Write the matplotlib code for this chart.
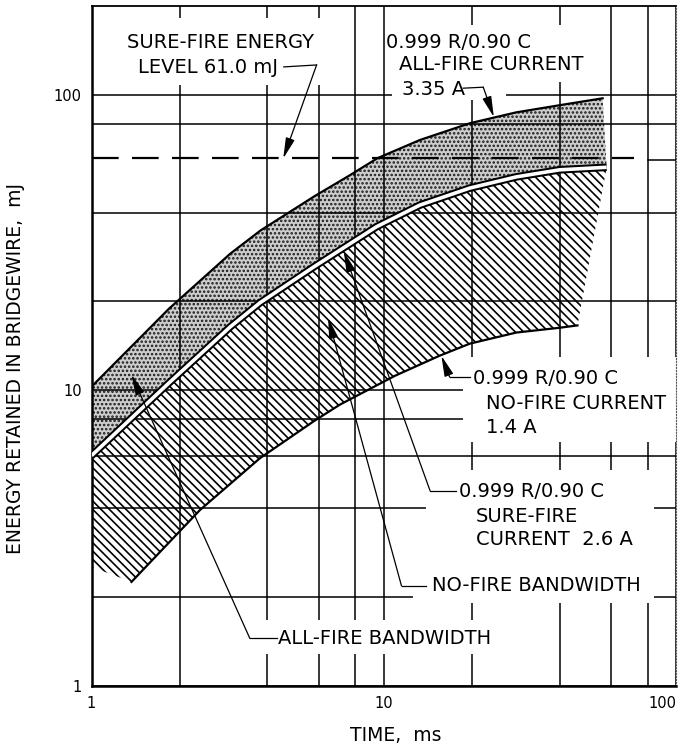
import matplotlib.pyplot as plt
from matplotlib.ticker import NullFormatter

plt.rcParams['font.family'] = ['DejaVu Sans']
plt.rcParams['hatch.linewidth'] = 1.2

# curves: time (ms) vs energy retained (mJ)
allfire_t = [1.0, 1.84, 2.98, 3.79, 5.81, 7.61, 9.52, 13.3, 19.7, 28.4, 40.5, 56.1]
allfire_e = [10.3, 18.9, 29.0, 34.8, 45.5, 53.3, 61.1, 70.4, 80.2, 87.3, 92.5, 97.4]

surefire_t = [1.0, 1.84, 2.98, 3.77, 5.73, 9.44, 13.3, 19.7, 28.4, 40.0, 57.9]
surefire_e = [6.02, 10.6, 16.4, 19.8, 26.1, 35.8, 42.4, 48.4, 52.8, 55.8, 56.9]

nofire_t = [1.37, 2.35, 3.77, 5.73, 7.07, 10.9, 15.5, 19.7, 28.4, 40.0, 46.0]
nofire_e = [2.25, 3.94, 5.9, 7.84, 8.95, 11.2, 13.1, 14.4, 15.7, 16.3, 16.6]

# hatched band is cut off at the 1 ms edge
band_cut_t = 1.0
band_cut_e = 2.53

surefire_level = 61.0

xticks = [1, 10, 100]
yticks = [1, 10, 100]
xgrid = [2, 4, 6, 8, 20, 40, 60, 80]
ygrid = [2, 4, 6, 8, 20, 40, 80]

fig = plt.figure(figsize=(6.79, 7.45), dpi=100)
ax = fig.add_axes([0.1348, 0.0792, 0.8608, 0.9128])
ax.set_xscale('log')
ax.set_yscale('log')
ax.set_xlim(1, 100)
ax.set_ylim(1, 200)

ax.set_xticks(xticks)
ax.set_xticklabels([str(v) for v in xticks])
ax.get_xticklabels()[-1].set_horizontalalignment('right')
ax.set_yticks(yticks)
ax.set_yticklabels([str(v) for v in yticks])
ax.set_xticks(xgrid, minor=True)
ax.set_yticks(ygrid, minor=True)
ax.xaxis.set_minor_formatter(NullFormatter())
ax.yaxis.set_minor_formatter(NullFormatter())
ax.tick_params(which='both', length=0, labelsize=10.5)
ax.tick_params(axis='x', pad=7)
ax.tick_params(axis='y', pad=7)
ax.grid(True, which='both', color='k', lw=1.1)
ax.set_axisbelow('line')
# the 60 mJ rule only shows past the end of the dashed line
ax.plot([80, 100], [60, 60], color='k', lw=1.1, zorder=1.5)

for s in ['left', 'bottom']:
    ax.spines[s].set_linewidth(1.8)
ax.spines['top'].set_linewidth(1.3)
ax.spines['right'].set_linewidth(0.8)
ax.spines['right'].set_linestyle(':')
ax.spines['right'].set_color('#555555')

# bands
ax.fill(allfire_t + surefire_t[::-1], allfire_e + surefire_e[::-1],
        facecolor='#cdcdcd', edgecolor='#1a1a1a', hatch='....', lw=0, zorder=1)
ax.fill(surefire_t + nofire_t[::-1] + [band_cut_t],
        surefire_e + nofire_e[::-1] + [band_cut_e],
        facecolor='none', edgecolor='k', hatch='\\\\\\\\', lw=0, zorder=1)

# white-outs behind the lettering
def blank(x0, x1, y0, y1):
    ax.fill([x0, x1, x1, x0], [y0, y0, y1, y1], color='w', lw=0, zorder=2)

blank(1.25, 6.14, 108, 182)
blank(10.08, 56.9, 110.7, 172.6)
blank(10.7, 26.3, 96.2, 110.7)
blank(18.6, 100, 6.69, 12.98)
blank(14.0, 84.4, 1.91, 5.38)
blank(12.6, 84.4, 1.91, 2.47)
blank(3.22, 25.9, 1.28, 1.67)

# curves
ax.plot(allfire_t, allfire_e, color='k', lw=1.6, zorder=3)
ax.plot(nofire_t, nofire_e, color='k', lw=1.6, zorder=3)
ax.plot(surefire_t, surefire_e, color='k', lw=5.5, zorder=3, solid_capstyle='butt')
ax.plot(surefire_t, surefire_e, color='w', lw=2.6, zorder=3.1, solid_capstyle='butt')
ax.plot([1, 72], [surefire_level, surefire_level], color='k', lw=1.6,
        ls='--', dashes=(12, 6), zorder=3)

# labels and leaders
fs = 14
arw = dict(arrowstyle='-|>,head_length=0.9,head_width=0.2', color='k', lw=0.9,
           shrinkA=0, shrinkB=0, mutation_scale=14)

def leader(pts, tip):
    xs = [p[0] for p in pts]
    ys = [p[1] for p in pts]
    ax.plot(xs, ys, color='k', lw=0.9, zorder=4)
    ax.annotate('', xy=tip, xytext=pts[-1], arrowprops=arw, zorder=4)

ax.text(2.77, 150, 'SURE-FIRE ENERGY', fontsize=fs, ha='center', va='center', zorder=4)
ax.text(1.44, 123.4, 'LEVEL 61.0 mJ', fontsize=fs, ha='left', va='center', zorder=4)
leader([(4.55, 124.4), (5.89, 126.3)], (4.53, surefire_level))

ax.text(10.2, 150, '0.999 R/0.90 C', fontsize=fs, va='center', zorder=4)
ax.text(11.3, 126.3, 'ALL-FIRE CURRENT', fontsize=fs, va='center', zorder=4)
ax.text(11.5, 104, '3.35 A', fontsize=fs, va='center', zorder=4)
leader([(18.7, 105.4), (21.9, 106.2)], (23.8, 84.2))

ax.text(20.2, 11.0, '0.999 R/0.90 C', fontsize=fs, va='center', zorder=4)
ax.text(22.4, 9.0, 'NO-FIRE CURRENT', fontsize=fs, va='center', zorder=4)
ax.text(22.4, 7.51, '1.4 A', fontsize=fs, va='center', zorder=4)
leader([(19.7, 11.1), (16.8, 11.1)], (15.75, 13.1))

ax.text(18.1, 4.55, '0.999 R/0.90 C', fontsize=fs, va='center', zorder=4)
ax.text(20.7, 3.74, 'SURE-FIRE', fontsize=fs, va='center', zorder=4)
ax.text(20.7, 3.12, 'CURRENT  2.6 A', fontsize=fs, va='center', zorder=4)
leader([(17.7, 4.58), (14.4, 4.58)], (7.30, 29.5))

ax.text(14.6, 2.18, 'NO-FIRE BANDWIDTH', fontsize=fs, va='center', zorder=4)
leader([(14.0, 2.18), (11.5, 2.18)], (6.45, 17.6))

ax.text(4.34, 1.45, 'ALL-FIRE BANDWIDTH', fontsize=fs, va='center', zorder=4)
leader([(4.30, 1.45), (3.48, 1.45)], (1.37, 11.3))

ax.set_ylabel('ENERGY RETAINED IN BRIDGEWIRE,  mJ', fontsize=13.5)
ax.yaxis.set_label_coords(-0.114, 0.467)
ax.set_xlabel('TIME,  ms', fontsize=13.5)
ax.xaxis.set_label_coords(0.521, -0.0588)

plt.savefig('out.png', dpi=100)
